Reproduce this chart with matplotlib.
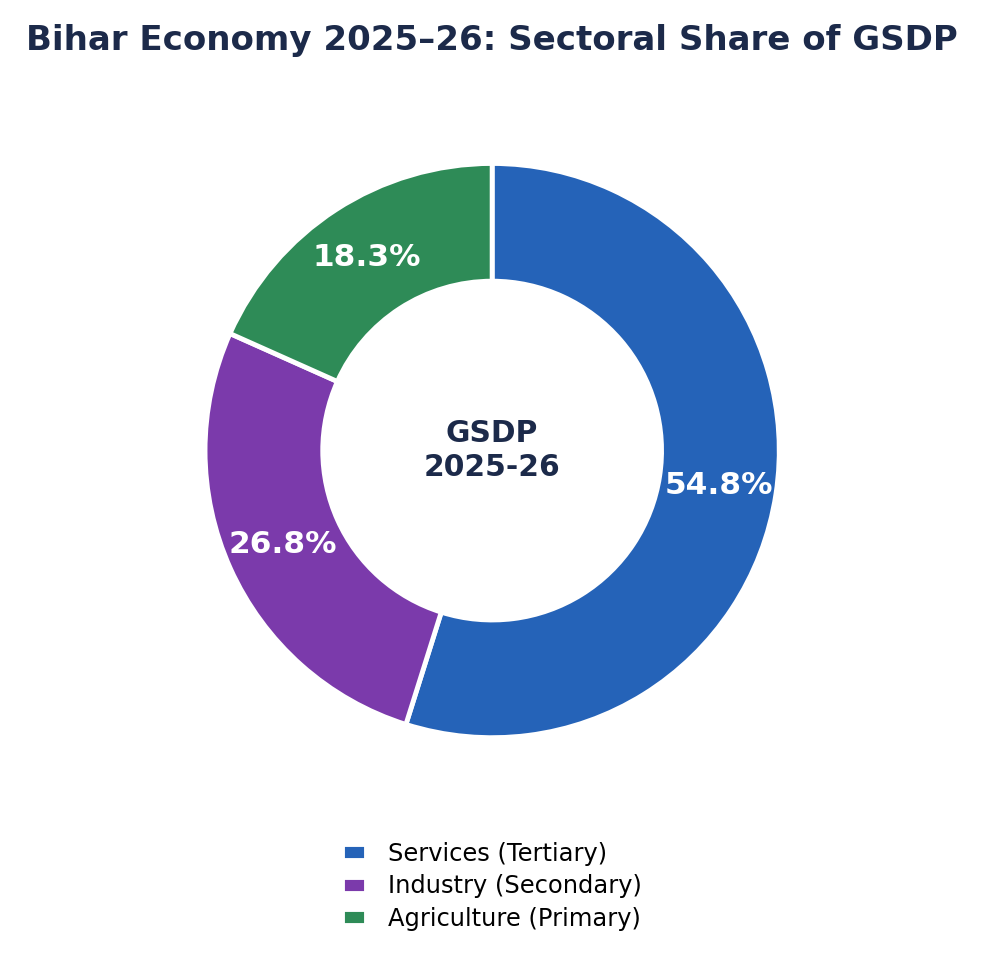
import matplotlib
matplotlib.use("Agg")
import matplotlib.pyplot as plt

sectors = ["Services (Tertiary)", "Industry (Secondary)", "Agriculture (Primary)"]
shares = [54.8, 26.8, 18.3]
colors = ["#2563B8", "#7B3AAB", "#2E8B57"]
title = "Bihar Economy 2025\u201326: Sectoral Share of GSDP"
center_text = "GSDP\n2025-26"

fig = plt.figure(figsize=(9.84, 9.64), dpi=100)
ax = fig.add_axes([0.1354, 0.1603, 0.7295, 0.7446])

wedges, texts, autotexts = ax.pie(
    shares, colors=colors, startangle=90, counterclock=False,
    autopct="%1.1f%%", pctdistance=0.8,
    wedgeprops=dict(width=0.41, edgecolor="white", linewidth=3.5),
)
for t, v in zip(autotexts, shares):
    t.set_text(f"{v:.1f}%")
    t.set_color("white")
    t.set_fontsize(22.5)
    t.set_fontweight("bold")

ax.text(0, 0, center_text, ha="center", va="center", fontsize=21.4,
        fontweight="bold", color="#1C2A4A", linespacing=1.2)
ax.set_aspect("equal")

fig.suptitle(title, fontsize=24.5, fontweight="bold", color="#1C2A4A", y=0.975)

fig.legend(wedges, sectors, loc="lower center", bbox_to_anchor=(0.5, 0.012),
           frameon=False, fontsize=17.4, handlelength=1.0, handleheight=0.65,
           handletextpad=0.9, labelspacing=0.35)

fig.savefig("out.png", dpi=100)
